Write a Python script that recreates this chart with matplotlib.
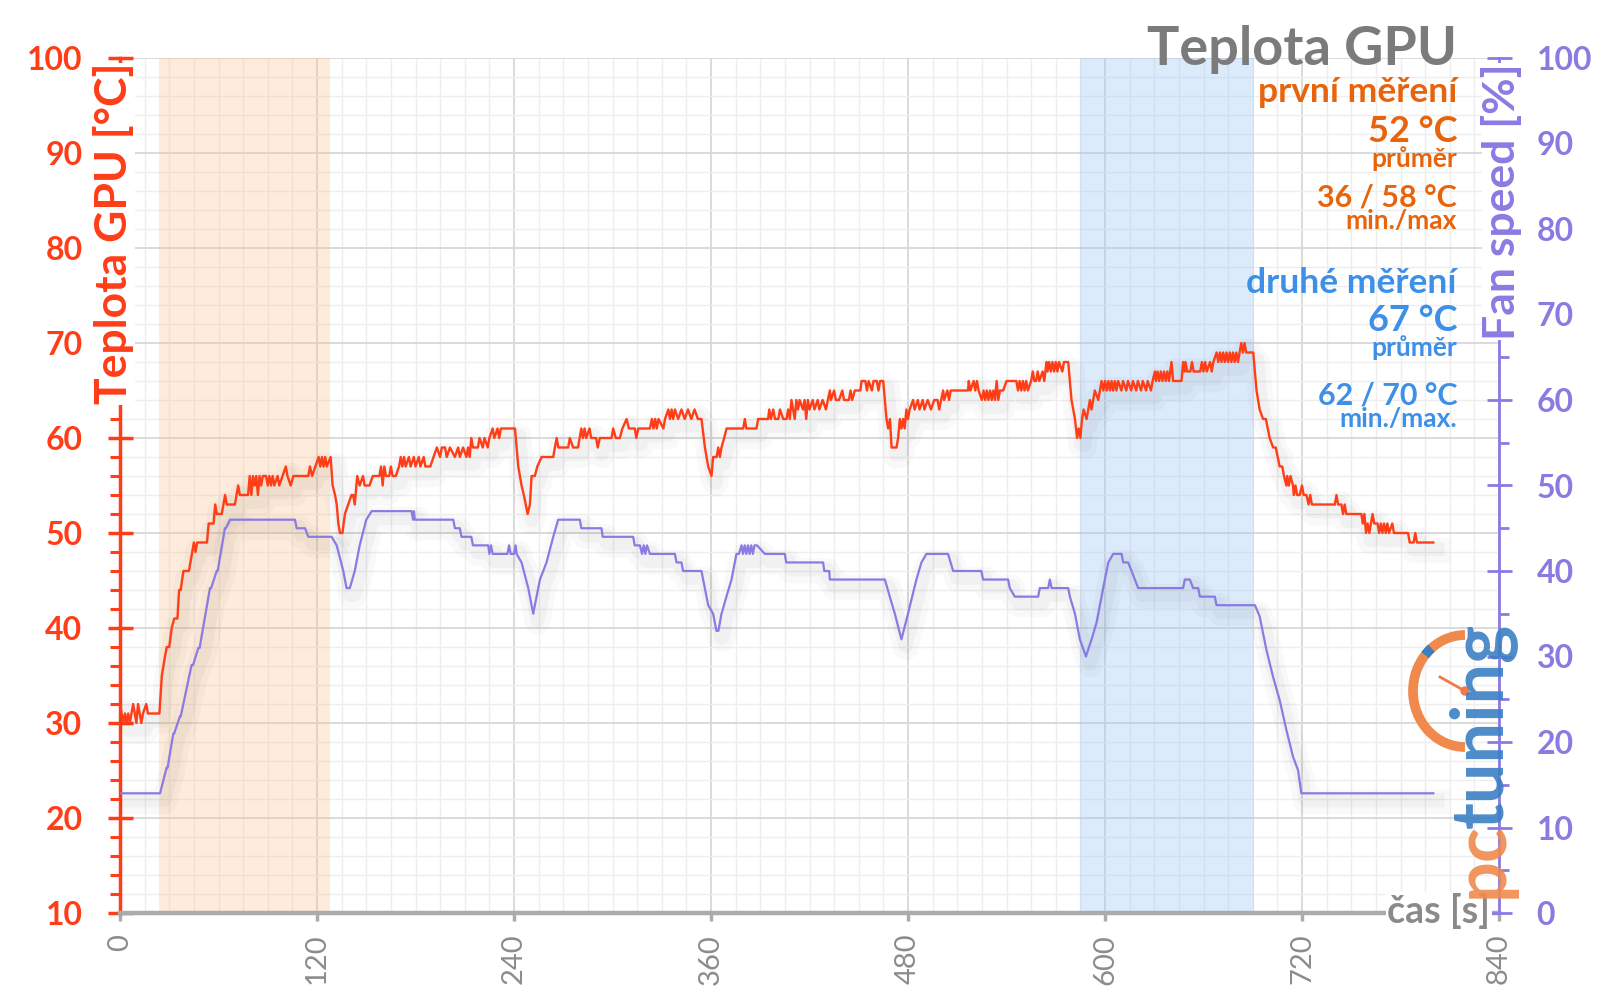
import matplotlib
matplotlib.use("Agg")
import matplotlib.pyplot as plt
import matplotlib.patheffects as pe
from matplotlib.patches import Arc, Circle
from matplotlib.ticker import MultipleLocator

plt.rcParams['font.family'] = ['Lato', 'DejaVu Sans']

# --- data ---
temp_t = [0, 1, 2, 3, 4, 5, 6, 7, 8, 9, 10, 11, 12, 13, 14, 16, 17, 24,
          25.5, 27.4, 28.5, 30, 31.5, 33, 35, 36, 37, 38.6, 42, 44, 45, 46, 47, 53,
          54, 57, 58, 59, 62, 64, 65, 70, 72, 73, 78, 79, 80, 81, 82, 83, 84, 85,
          86, 87, 89, 90, 91, 92, 93, 94, 96, 97, 99, 101, 102, 104, 105.6, 114.7,
          115.7, 117, 119, 121, 122, 123, 124, 125, 126, 128.3, 129.5, 131, 132,
          133, 134, 135.5, 137, 139, 141, 142, 143, 144.5, 146, 148, 149, 152,
          154, 158, 159, 160, 161, 162, 164, 165, 166, 168, 170, 171, 172, 173,
          174, 176, 177, 179, 180, 182, 183, 185, 186, 189, 193, 195, 196, 198,
          199, 201, 204, 206, 207, 209, 211, 212, 213, 214, 215, 218, 219, 221,
          222, 224, 225, 227, 228, 230, 231, 232, 240.6, 242.6, 244.6, 246, 248.3,
          249.7, 250.7, 252.7, 254.2, 256.8, 263.9, 264.9, 266, 267, 273, 274,
          276, 279, 281, 282, 283, 284, 286, 287, 290, 291, 292.3, 299.4, 300.4,
          302, 304.5, 306, 308.6, 310, 313.6, 314.5, 315.7, 322.8, 324, 325, 326,
          327, 328, 331, 332, 334, 335, 336, 337, 338, 340, 342, 344, 346, 348,
          350, 352, 354.2, 356.3, 358.3, 360.3, 361.3, 363.4, 364.4, 365.4, 366.4,
          368, 369.5, 379.6, 380.6, 381.5, 387.7, 388.7, 394.8, 395.5, 396.5,
          397.9, 399, 401, 402, 404, 406, 407, 408, 409, 410, 411, 412, 413, 414,
          416, 417, 418, 419, 420, 422, 423, 425, 426, 428, 430, 432.4, 433, 435,
          436, 438, 440, 441, 444, 445, 446, 447.6, 451, 451.7, 454, 455, 456,
          458, 459, 461, 462, 463, 464.9, 466.9, 467.9, 469, 470, 473, 474, 475,
          476, 477, 478, 479, 480, 481, 483.1, 484, 486, 487, 489, 490, 492, 494,
          496, 498, 499, 501.4, 502, 504, 505, 506, 516.6, 517, 518, 520, 521,
          522, 523, 525, 526, 527, 528, 529, 530, 531, 532, 533, 534, 535, 536,
          538, 540, 546, 547, 548, 549, 550, 551, 552, 553, 555, 556, 557, 558,
          559, 560, 562, 563, 564.4, 565, 566, 567, 568, 569, 570, 571, 572, 574,
          575, 577.6, 579.6, 581.7, 583, 584, 585, 586, 587, 588.8, 590.8, 591.8,
          593.8, 595.9, 597.9, 599, 600, 601, 602, 603, 604, 605, 606, 607, 608,
          610, 611, 613, 614, 616, 617, 619, 620, 622, 623, 625, 626, 628, 629,
          630.4, 631, 632, 633, 634, 635, 636, 637, 638, 639, 640.5, 641.5, 646.6,
          647.6, 648.5, 649, 650, 652, 653, 654, 658, 659, 660, 661, 662, 664,
          665, 666, 668, 669, 670, 671, 672, 673, 674, 675, 676, 677, 678, 679,
          680, 681, 682, 683, 684, 685, 686, 690.3, 692.3, 694.2, 696.3, 698,
          700.3, 702.4, 704, 706.4, 708, 709, 710.5, 711, 712, 713, 714.5, 715,
          716, 717, 718.6, 720, 721, 722.7, 724, 725, 726, 740, 741, 742, 744,
          745, 746, 747, 756.2, 757, 758, 759, 760, 761, 762, 763, 764, 766, 767,
          768, 769, 770, 771, 772, 773, 775, 776, 784.6, 785.6, 788, 789, 790, 800]
temp_c = [32, 31, 30, 31, 30, 31, 30, 31, 32, 31, 30, 32, 31, 30, 31, 32, 31, 31,
          35, 37, 38, 38, 40, 41, 41, 44, 44, 46, 46, 48, 49, 48, 49, 49,
          51, 51, 53, 52, 52, 54, 53, 53, 55, 54, 54, 56, 54, 56, 55, 56, 54, 56,
          55, 56, 56, 55, 56, 55, 56, 55, 56, 55, 56, 57, 56, 55, 56, 56,
          57, 56, 57, 58, 57, 58, 57, 58, 57, 58, 55, 54, 53,
          51, 50, 50, 52, 53, 54, 54, 53, 56, 55, 56, 55, 55,
          56, 56, 57, 55, 57, 56, 56, 57, 56, 56, 57, 58, 57, 58,
          57, 58, 57, 58, 57, 58, 57, 58, 57, 57, 59, 58, 59, 59,
          58, 59, 58, 59, 58, 59, 58, 59, 58, 60, 59, 59, 60, 59,
          60, 59, 60, 61, 60, 61, 60, 61, 61, 57, 55, 54, 52,
          53, 56, 56, 57, 58, 58, 59, 60, 59, 59, 60,
          59, 59, 61, 60, 61, 60, 61, 60, 60, 59, 60, 60, 61,
          60, 60, 61, 62, 61, 61, 60, 61, 61, 62, 61, 62,
          61, 62, 61, 62, 63, 62, 63, 62, 63, 62, 63, 62, 63, 62,
          63, 62, 62, 59, 57, 56, 58, 58, 59, 58, 59,
          60, 61, 61, 62, 61, 61, 62, 62, 63, 62,
          63, 62, 62, 63, 62, 62, 63, 62, 64, 63, 62, 64, 63, 64,
          63, 64, 62, 64, 63, 64, 63, 64, 63, 64, 63, 65, 64, 65,
          64, 64, 65, 64, 64, 65, 64, 65, 65, 66, 66, 65, 66,
          65, 66, 66, 65, 66, 66, 62, 61, 62, 59, 59, 60, 62,
          61, 62, 61, 63, 62, 63, 64, 63, 64, 63, 64, 63, 64, 63,
          64, 64, 63, 65, 64, 65, 64, 65, 65, 66, 65, 66, 65,
          66, 65, 64, 65, 64, 65, 64, 65, 64, 65, 64, 66, 64, 65,
          65, 66, 66, 65, 66, 65, 66, 65, 66, 65, 66, 67, 66, 66,
          67, 66, 67, 66, 68, 67, 68, 67, 68, 67, 68, 67, 68, 67,
          68, 68, 64, 62, 60, 61, 60, 62, 63, 62, 64, 63,
          65, 64, 66, 65, 66, 65, 66, 65, 66, 65, 66, 65, 66,
          65, 66, 65, 66, 65, 66, 65, 66, 65, 66, 65, 66, 65, 66,
          67, 66, 67, 66, 67, 66, 67, 66, 67, 66, 68, 66, 66,
          68, 67, 68, 67, 67, 68, 67, 67, 68, 67, 68, 67, 68,
          67, 68, 69, 68, 69, 68, 69, 68, 69, 68, 69, 68, 69, 68,
          69, 68, 69, 70, 69, 70, 69, 69, 65, 63, 62, 62,
          60, 59, 59, 57, 57, 56, 55, 56, 55, 56, 55, 54,
          55, 54, 54, 55, 54, 54, 53, 54, 53, 53, 54, 53, 53,
          52, 53, 52, 52, 51, 52, 50, 51, 50, 51, 52, 51, 51, 50,
          51, 50, 51, 50, 51, 50, 51, 50, 50, 49, 49, 50, 49, 49]

fan_t = [0, 24.4, 28.4, 29, 32.5, 33, 36.5, 37, 43.6, 44.5, 47.7, 48.5, 54.8, 55.5,
         58.9, 59.5, 63.9, 64.5, 67, 106.6, 107.6, 112.7, 114.7, 128.9, 132, 136,
         138, 140, 143, 146, 150, 153.3, 177.6, 178.5, 179, 179.6, 203, 204, 207,
         208, 214, 215, 224.3, 225, 226, 227, 236, 237, 238, 240, 241, 241.6,
         244.6, 248.7, 251.7, 255.8, 259.8, 263.9, 266.9, 280.1, 281, 293.3, 294,
         312.6, 313.5, 316.7, 318, 319, 320, 321, 322.8, 338, 339, 342, 343,
         354.2, 355.2, 358.3, 361.3, 363.3, 364.5, 366.4, 369.4, 372.5, 375.5,
         377, 378.6, 379.5, 380.5, 381.5, 382.5, 383.5, 384.5, 385.5, 386.5, 388,
         392.8, 405, 405.8, 428.3, 429, 432, 432.4, 465.9, 468.9, 472, 476, 480,
         485.1, 488.2, 491.2, 504.4, 507.5, 524.7, 525.7, 541, 542, 545.1, 559.3,
         560.3, 565.4, 566.4, 567.5, 577.6, 578.6, 581.7, 584.7, 588.4, 591.8,
         594.9, 598.9, 602, 605, 610.1, 611.1, 614.1, 616.2, 618.2, 620.2, 647.6,
         648.6, 651.7, 653.7, 656.8, 657.8, 666.9, 667.9, 691.3, 694.2, 698.3,
         702.4, 706.4, 710.5, 714.5, 717.6, 719.6, 800]
fan_pct = [14, 14, 17, 17, 21, 21, 23, 23, 29, 29, 31, 31, 38, 38,
           40, 40, 45, 45, 46, 46, 45, 45, 44, 44, 43, 40,
           38, 38, 40, 43, 46, 47, 47, 46, 47, 46, 46, 45, 45,
           44, 44, 43, 43, 42, 43, 42, 42, 43, 42, 42, 43, 42,
           41, 38, 35, 39, 41, 44, 46, 46, 45, 45, 44,
           44, 43, 43, 42, 43, 42, 43, 42, 42, 41, 41, 40,
           40, 39, 36, 35, 33, 33, 35, 37, 39, 42,
           42, 43, 42, 43, 42, 43, 42, 43, 42, 43, 43,
           42, 42, 41, 41, 40, 40, 39, 39, 37, 35, 32, 35,
           39, 41, 42, 42, 40, 40, 39, 39, 38, 37, 37,
           38, 38, 39, 38, 38, 37, 35, 32, 30, 32,
           34, 38, 41, 42, 42, 41, 41, 40, 39, 38, 38,
           39, 39, 38, 38, 37, 37, 36, 36, 34.7, 30.8,
           27.6, 24.9, 21.4, 18.3, 16.7, 14, 14]

first_run = (24, 128)
second_run = (585, 690.5)

x_ticks = [0, 120, 240, 360, 480, 600, 720, 840]
temp_ticks = [10, 20, 30, 40, 50, 60, 70, 80, 90, 100]
fan_ticks = [0, 10, 20, 30, 40, 50, 60, 70, 80, 90, 100]

RED = '#ff3d17'
PURPLE = '#8a7be3'
ORANGE_TXT = '#e8640c'
BLUE_TXT = '#3d8fe8'
GRAY = '#8c8c8c'

fig = plt.figure(figsize=(16, 10.08), dpi=100)
ax = fig.add_axes([120 / 1600, 95 / 1008, 1379 / 1600, 855 / 1008])
ax2 = ax.twinx()

ax.set_xlim(0, 840)
ax.set_ylim(10, 100)
ax2.set_ylim(0, 100)

ax.set_xticks(x_ticks)
ax.set_xticklabels([str(v) for v in x_ticks])
ax.xaxis.set_minor_locator(MultipleLocator(15))
ax.set_yticks(temp_ticks)
ax.set_yticklabels([str(v) for v in temp_ticks], fontweight='bold')
ax.yaxis.set_minor_locator(MultipleLocator(2))
ax2.set_yticks(fan_ticks)
ax2.set_yticklabels([str(v) for v in fan_ticks], fontweight='bold')
ax2.yaxis.set_minor_locator(MultipleLocator(5))

ax.set_axisbelow(True)
ax.grid(which='major', color='#d8d8d8', lw=1.3)
ax.grid(which='minor', color='#eeeeee', lw=1.0)

ax.axvspan(*first_run, color='#f9c08a', alpha=0.3, lw=0, zorder=0.8)
ax.axvspan(*second_run, color='#9cc6f5', alpha=0.35, lw=0, zorder=0.8)

shadow = [pe.SimpleLineShadow(offset=(3, -6), shadow_color='k', alpha=0.022, linewidth=18),
          pe.SimpleLineShadow(offset=(3, -5), shadow_color='k', alpha=0.03, linewidth=10),
          pe.Normal()]
ax.plot(temp_t, temp_c, color=RED, lw=1.7, path_effects=shadow, zorder=3)
ax2.plot(fan_t, fan_pct, color=PURPLE, lw=1.6, path_effects=shadow, zorder=3)

for s in ['top', 'right']:
    ax.spines[s].set_visible(False)
for s in ['top', 'left', 'bottom']:
    ax2.spines[s].set_visible(False)
ax.spines['left'].set_color(RED)
ax.spines['left'].set_linewidth(2.5)
ax.spines['bottom'].set_color('#ababab')
ax.spines['bottom'].set_linewidth(3.2)
ax2.spines['right'].set_color(PURPLE)
ax2.spines['right'].set_linewidth(2)

ax.tick_params(axis='y', which='major', direction='inout', length=18, width=2.5,
               color=RED, labelcolor=RED, labelsize=23, pad=18)
ax.tick_params(axis='y', which='minor', direction='out', length=7, width=2.2, color=RED)
ax.tick_params(axis='x', which='major', direction='out', length=6, width=2.5,
               color='#ababab', labelcolor=GRAY, labelsize=21, pad=9, labelrotation=90)
ax.tick_params(axis='x', which='minor', length=0)
ax2.tick_params(axis='y', which='major', direction='inout', length=18, width=2,
                color=PURPLE, labelcolor=PURPLE, labelsize=23, pad=18)
ax2.tick_params(axis='y', which='minor', direction='out', length=7, width=2, color=PURPLE)

# overlay in pixel coordinates for labels and logo
ov = fig.add_axes([0, 0, 1, 1])
ov.set_xlim(0, 1600)
ov.set_ylim(1008, 0)
ov.axis('off')

white_box = dict(facecolor='white', edgecolor='none', pad=0)
ov.text(114, 63, 'Teplota GPU [°C]', rotation=90, ha='center', va='top',
        fontsize=32, fontweight='bold', color=RED, bbox=white_box)
ov.text(1502, 63, 'Fan speed [%]', rotation=90, ha='center', va='top',
        fontsize=32, fontweight='bold', color=PURPLE, bbox=white_box)
ov.text(1490, 923, 'čas [s]', ha='right', va='baseline', fontsize=27,
        fontweight='bold', color='#8a8a8a',
        bbox=dict(facecolor='white', edgecolor='none', pad=1))

ov.text(1457, 65, 'Teplota GPU', ha='right', va='baseline', fontsize=39,
        fontweight='bold', color='#7b7b7b')
ov.text(1457, 102, 'první měření', ha='right', va='baseline', fontsize=25.5, fontweight='bold', color=ORANGE_TXT)
ov.text(1457, 142, '52 °C', ha='right', va='baseline', fontsize=26, fontweight='bold', color=ORANGE_TXT)
ov.text(1457, 167, 'průměr', ha='right', va='baseline', fontsize=19, fontweight='bold', color=ORANGE_TXT)
ov.text(1457, 207, '36 / 58 °C', ha='right', va='baseline', fontsize=22, fontweight='bold', color=ORANGE_TXT)
ov.text(1457, 229, 'min./max', ha='right', va='baseline', fontsize=19, fontweight='bold', color=ORANGE_TXT)
ov.text(1457, 293, 'druhé měření', ha='right', va='baseline', fontsize=25.5, fontweight='bold', color=BLUE_TXT)
ov.text(1457, 331, '67 °C', ha='right', va='baseline', fontsize=26, fontweight='bold', color=BLUE_TXT)
ov.text(1457, 356, 'průměr', ha='right', va='baseline', fontsize=19, fontweight='bold', color=BLUE_TXT)
ov.text(1457, 405, '62 / 70 °C', ha='right', va='baseline', fontsize=22, fontweight='bold', color=BLUE_TXT)
ov.text(1457, 427, 'min./max.', ha='right', va='baseline', fontsize=19, fontweight='bold', color=BLUE_TXT)

# pctuning logo
ov.text(1482, 828, 'tuning', rotation=90, ha='center', va='bottom', fontsize=52,
        fontweight='bold', color='#3b7fc4', alpha=0.9)
ov.text(1482, 898, 'pc', rotation=90, ha='center', va='bottom', fontsize=52,
        fontweight='bold', color='#f08a4c', alpha=0.9)
ov.add_patch(Arc((1465, 691), 104, 112, theta1=90, theta2=270, lw=7, color='#f08a4c'))
ov.add_patch(Arc((1465, 691), 104, 112, theta1=222, theta2=232, lw=7, color='#3b7fc4'))
ov.plot([1440, 1465], [677, 691], color='#f07a4c', lw=2)
ov.add_patch(Circle((1465, 691), 4, color='#f07a4c'))

fig.savefig('out.png', dpi=100)
